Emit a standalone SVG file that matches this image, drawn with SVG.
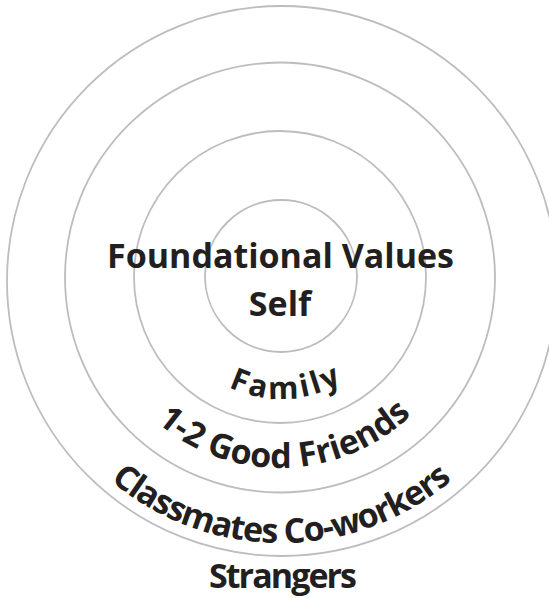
<svg xmlns="http://www.w3.org/2000/svg" width="549" height="598" viewBox="0 0 549 598">
  <style>
    .ring { fill: none; stroke: #bcbdc1; stroke-width: 1.8; }
    .lbl { font-family: "Open Sans", "Liberation Sans", sans-serif; font-weight: 700; fill: #231f20; }
  </style>
  <defs>
    <path id="arcFamily" d="M159,277 A122,122 0 0 0 403,277"/>
    <path id="arcFriends" d="M91,279 A189,189 0 0 0 469,279"/>
    <path id="arcClass" d="M17,279 A264,264 0 0 0 545,279"/>
  </defs>
  <rect width="549" height="598" fill="#ffffff"/>
  <g id="rings">
    <circle id="ring-self" class="ring" cx="281" cy="276" r="76"/>
    <circle id="ring-family" class="ring" cx="280" cy="277" r="146"/>
    <circle id="ring-friends" class="ring" cx="280" cy="277.5" r="215"/>
    <circle id="ring-classmates" class="ring" cx="282" cy="281" r="275"/>
  </g>
  <g id="connectors"></g>
  <g id="node-self">
    <text class="lbl" x="280.5" y="268" font-size="34" text-anchor="middle" textLength="347">Foundational Values</text>
    <text class="lbl" x="280" y="316" font-size="34" text-anchor="middle">Self</text>
  </g>
  <g id="node-family">
    <text class="lbl" font-size="31"><textPath href="#arcFamily" startOffset="196" text-anchor="middle" textLength="118">Family</textPath></text>
  </g>
  <g id="node-friends">
    <text class="lbl" font-size="34"><textPath href="#arcFriends" startOffset="302" text-anchor="middle" textLength="280">1-2 Good Friends</textPath></text>
  </g>
  <g id="node-classmates">
    <text class="lbl" font-size="34"><textPath href="#arcClass" startOffset="415" text-anchor="middle" textLength="372">Classmates Co-workers</textPath></text>
  </g>
  <g id="node-strangers">
    <text class="lbl" x="283" y="588" font-size="34" text-anchor="middle" textLength="148">Strangers</text>
  </g>
</svg>
